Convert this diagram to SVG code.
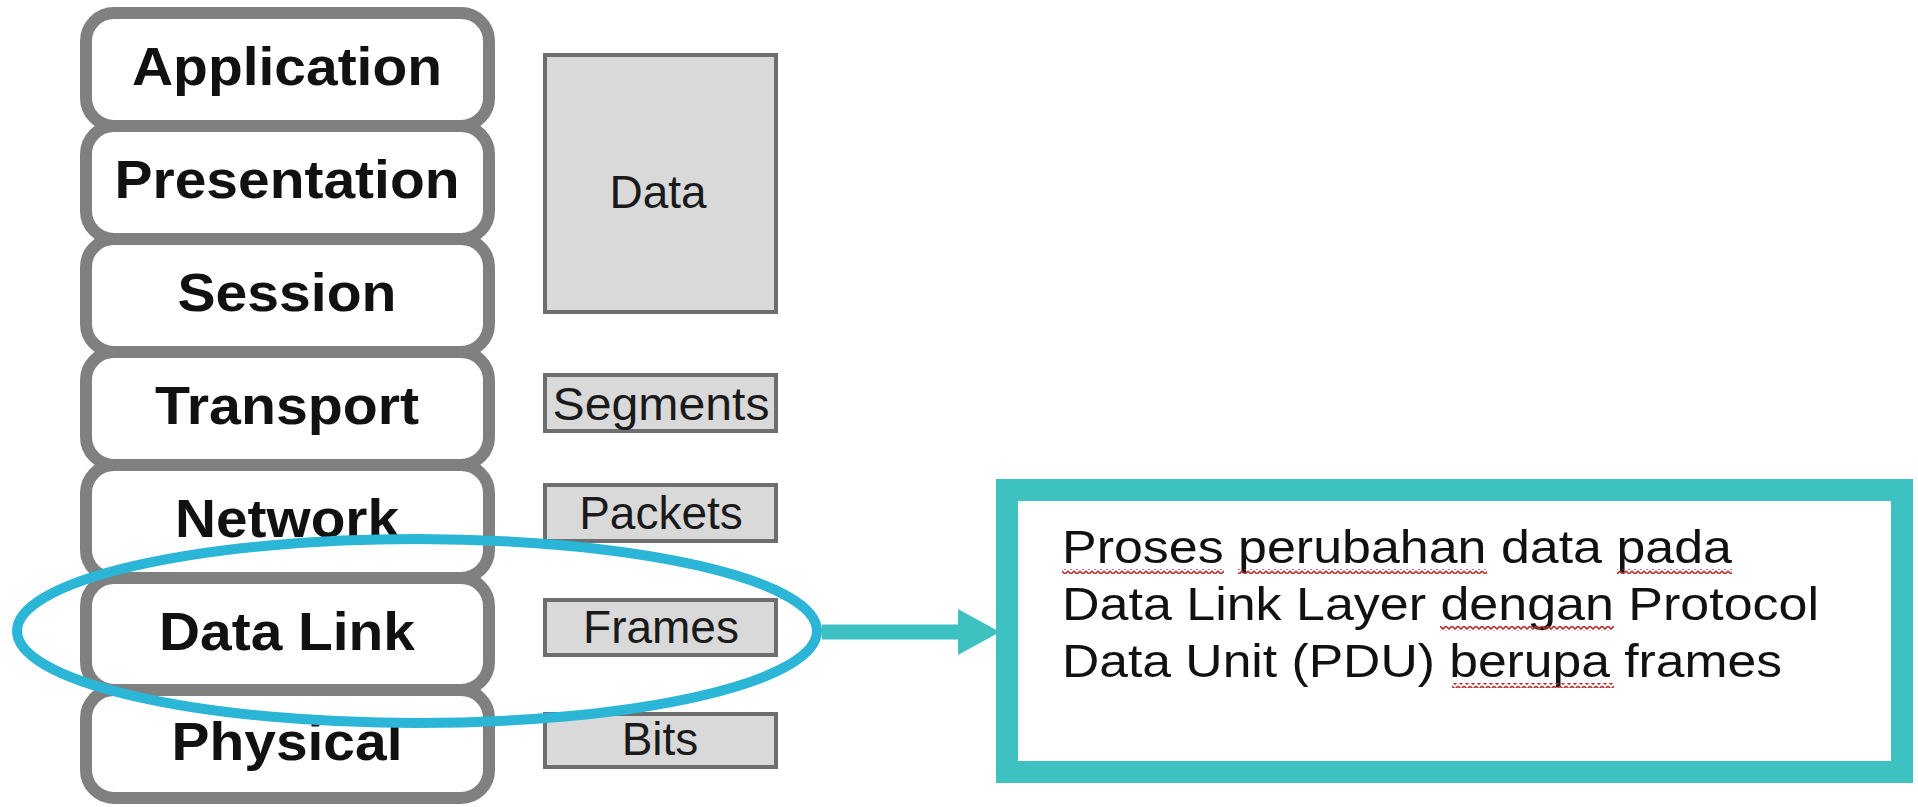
<svg xmlns="http://www.w3.org/2000/svg" width="1918" height="807" viewBox="0 0 1918 807">
<style>
.layer rect{fill:#ffffff;stroke:#808080;stroke-width:12}
.layer text{font-family:"Liberation Sans",Arial,sans-serif;font-weight:bold;font-size:53px;fill:#111111;text-anchor:middle}
.pdu rect{fill:#d9d9d9;stroke:#6e6e6e;stroke-width:4}
.pdu text{font-family:"Liberation Sans",Arial,sans-serif;font-size:46px;fill:#1a1a1a;text-anchor:middle}
.note text{font-family:"Liberation Sans",Arial,sans-serif;font-size:46px;fill:#111111}
.teal{stroke:#3ec1c1}
</style>
<defs>
<pattern id="squig" x="0" y="0" width="6" height="5" patternUnits="userSpaceOnUse">
<path d="M0,1 L3,4 L6,1" fill="none" stroke="#b83030" stroke-width="1.6"/>
</pattern>
</defs>
<rect width="1918" height="807" fill="#ffffff"/>

<g id="layer-application" class="layer"><rect x="86" y="13" width="403" height="113" rx="28"/><text x="287" y="85" textLength="310" lengthAdjust="spacingAndGlyphs">Application</text></g>
<g id="layer-presentation" class="layer"><rect x="86" y="126" width="403" height="113" rx="28"/><text x="287" y="198" textLength="345" lengthAdjust="spacingAndGlyphs">Presentation</text></g>
<g id="layer-session" class="layer"><rect x="86" y="239" width="403" height="113" rx="28"/><text x="287" y="311" textLength="219" lengthAdjust="spacingAndGlyphs">Session</text></g>
<g id="layer-transport" class="layer"><rect x="86" y="352" width="403" height="113" rx="28"/><text x="287" y="424" textLength="264" lengthAdjust="spacingAndGlyphs">Transport</text></g>
<g id="layer-network" class="layer"><rect x="86" y="465" width="403" height="113" rx="28"/><text x="287" y="537" textLength="224" lengthAdjust="spacingAndGlyphs">Network</text></g>
<g id="layer-datalink" class="layer"><rect x="86" y="578" width="403" height="112" rx="28"/><text x="287" y="650" textLength="256" lengthAdjust="spacingAndGlyphs">Data Link</text></g>
<g id="layer-physical" class="layer"><rect x="86" y="690" width="403" height="108" rx="28"/><text x="287" y="760" textLength="231" lengthAdjust="spacingAndGlyphs">Physical</text></g>

<g id="pdu-data" class="pdu"><rect x="545" y="55" width="231" height="257"/><text x="658" y="208">Data</text></g>
<g id="pdu-segments" class="pdu"><rect x="545" y="375" width="231" height="56"/><text x="661" y="420" textLength="217" lengthAdjust="spacingAndGlyphs">Segments</text></g>
<g id="pdu-packets" class="pdu"><rect x="545" y="485" width="231" height="56"/><text x="661" y="529">Packets</text></g>
<g id="pdu-frames" class="pdu"><rect x="545" y="600" width="231" height="55"/><text x="661" y="643">Frames</text></g>
<g id="pdu-bits" class="pdu"><rect x="545" y="714" width="231" height="53"/><text x="660" y="755">Bits</text></g>

<g id="highlight">
<ellipse cx="417" cy="631" rx="400" ry="92" fill="none" stroke="#2bb5d7" stroke-width="10"/>
</g>

<g id="connectors">
<line x1="822" y1="632" x2="962" y2="632" class="teal" stroke-width="15"/>
<polygon points="958,609 1000,632 958,655" fill="#3ec1c1"/>
</g>

<g id="note" class="note">
<rect x="1007" y="490" width="895" height="282" fill="#ffffff" class="teal" stroke-width="22"/>
<text x="1062" y="563" textLength="670" lengthAdjust="spacingAndGlyphs">Proses perubahan data pada</text>
<text x="1062" y="620" textLength="757" lengthAdjust="spacingAndGlyphs">Data Link Layer dengan Protocol</text>
<text x="1062" y="677" textLength="720" lengthAdjust="spacingAndGlyphs">Data Unit (PDU) berupa frames</text>
<rect x="1062" y="569" width="162" height="5" fill="url(#squig)"/>
<rect x="1238" y="569" width="249" height="5" fill="url(#squig)"/>
<rect x="1617" y="569" width="115" height="5" fill="url(#squig)"/>
<rect x="1440" y="626" width="174" height="5" fill="url(#squig)"/>
<rect x="1452" y="683" width="162" height="5" fill="url(#squig)"/>
</g>
</svg>
